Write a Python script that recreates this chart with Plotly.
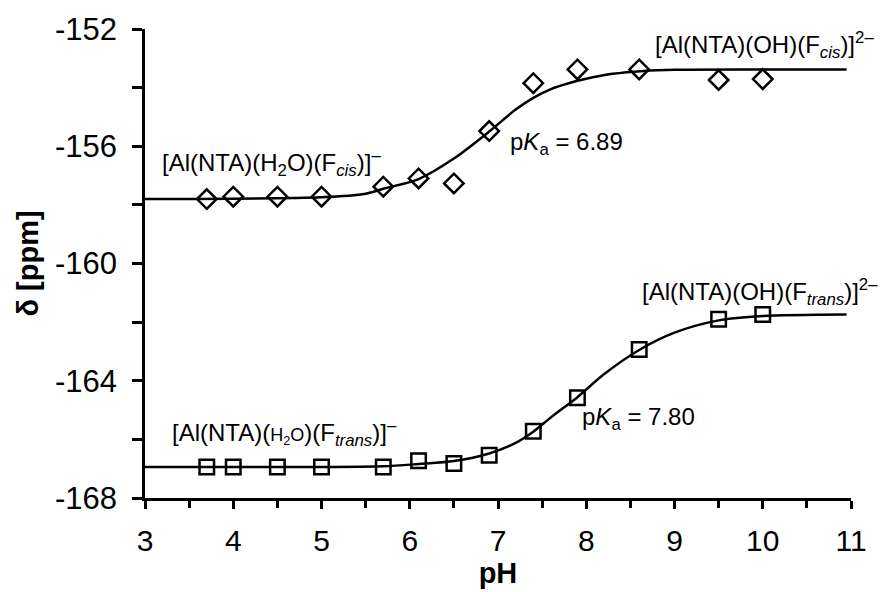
import plotly.graph_objects as go

# ---- data ----
ph_points = [3.7, 4.0, 4.5, 5.0, 5.7, 6.1, 6.5, 6.9, 7.4, 7.9, 8.6, 9.5, 10.0]
delta_cis = [-157.80, -157.72, -157.72, -157.72, -157.38, -157.10, -157.27,
             -155.48, -153.85, -153.38, -153.38, -153.74, -153.71]
delta_trans = [-166.94, -166.94, -166.94, -166.94, -166.94, -166.73, -166.82,
               -166.54, -165.72, -164.58, -162.93, -161.90, -161.74]

ph_fit_cis = [3.0, 5.0, 5.5, 5.7, 6.1, 6.5, 6.9, 7.2, 7.4, 7.6, 7.8, 8.0, 8.3, 8.65, 9.0, 10.0, 10.95]
delta_fit_cis = [-157.80, -157.74, -157.62, -157.45, -157.12, -156.42, -155.50, -154.75,
                 -154.35, -154.05, -153.85, -153.70, -153.53, -153.43, -153.39, -153.38, -153.38]

ph_fit_trans = [3.0, 5.0, 5.7, 6.1, 6.5, 6.9, 7.2, 7.4, 7.6, 7.9, 8.2, 8.6, 9.0, 9.5, 10.0, 10.95]
delta_fit_trans = [-166.94, -166.94, -166.92, -166.84, -166.74, -166.48, -166.12, -165.74,
                   -165.25, -164.56, -163.78, -162.95, -162.36, -161.94, -161.79, -161.74]

x_ticks = [3, 4, 5, 6, 7, 8, 9, 10, 11]
x_ticklabels = ["3", "4", "5", "6", "7", "8", "9", "10", "11"]
y_ticks = [-168, -164, -160, -156, -152]
y_ticklabels = ["-168", "-164", "-160", "-156", "-152"]

labels = [
    (3.17, -156.57, "[Al(NTA)(H<sub>2</sub>O)(F<sub><i>cis</i></sub>)]<sup>–</sup>"),
    (8.76, -152.55, "[Al(NTA)(OH)(F<sub><i>cis</i></sub>)]<sup>2–</sup>"),
    (3.28, -165.79, "[Al(NTA)(<span style='font-size:18px'>H<sub>2</sub>O</span>)(F<sub><i>trans</i></sub>)]<sup>–</sup>"),
    (8.61, -160.98, "[Al(NTA)(OH)(F<sub><i>trans</i></sub>)]<sup>2–</sup>"),
    (7.11, -155.89, "p<i>K</i><sub>a</sub> = 6.89"),
    (7.93, -165.28, "p<i>K</i><sub>a</sub> = 7.80"),
]

FONT = "Liberation Sans, Arial, sans-serif"

fig = go.Figure()
fig.add_trace(go.Scatter(x=ph_fit_cis, y=delta_fit_cis, mode="lines",
                         line=dict(color="black", width=2.5, shape="spline", smoothing=0.8),
                         showlegend=False, hoverinfo="skip"))
fig.add_trace(go.Scatter(x=ph_fit_trans, y=delta_fit_trans, mode="lines",
                         line=dict(color="black", width=2.5, shape="spline", smoothing=0.8),
                         showlegend=False, hoverinfo="skip"))
fig.add_trace(go.Scatter(x=ph_points, y=delta_cis, mode="markers",
                         marker=dict(symbol="diamond-open", size=15, color="black",
                                     line=dict(width=2.5, color="black")),
                         showlegend=False, cliponaxis=False))
fig.add_trace(go.Scatter(x=ph_points, y=delta_trans, mode="markers",
                         marker=dict(symbol="square-open", size=14.5, color="black",
                                     line=dict(width=2.5, color="black")),
                         showlegend=False, cliponaxis=False))

for x, y, t in labels:
    fig.add_annotation(x=x, y=y, text=t, showarrow=False, xanchor="left", yanchor="middle",
                       font=dict(family=FONT, size=24, color="black"))

fig.update_layout(
    width=890, height=592,
    margin=dict(l=145, r=39, t=29, b=94, autoexpand=False),
    paper_bgcolor="white", plot_bgcolor="white",
    font=dict(family=FONT, color="black"),
    showlegend=False,
)
fig.update_xaxes(
    range=[3, 11], tickvals=x_ticks, ticktext=x_ticklabels,
    showgrid=False, zeroline=False, showline=True, linecolor="black", linewidth=2.5,
    ticks="outside", ticklen=8, tickwidth=2.5, tickcolor="black",
    tickfont=dict(family=FONT, size=30, color="black"), ticklabelstandoff=6,
    minor=dict(dtick=0.5, tick0=3, ticks="outside", ticklen=7, tickwidth=2.5, tickcolor="black", showgrid=False),
    title=dict(text="<b>pH</b>", font=dict(family=FONT, size=29, color="black"), standoff=2),
    automargin=False,
)
fig.update_yaxes(
    range=[-168, -152], tickvals=y_ticks, ticktext=y_ticklabels,
    showgrid=False, zeroline=False, showline=True, linecolor="black", linewidth=2.5,
    ticks="outside", ticklen=10, tickwidth=2.5, tickcolor="black",
    tickfont=dict(family=FONT, size=31, color="black"), ticklabelstandoff=9,
    minor=dict(dtick=2, tick0=-168, ticks="outside", ticklen=10, tickwidth=2.5, tickcolor="black", showgrid=False),
    title=dict(text="<b>δ [ppm]</b>", font=dict(family=FONT, size=29, color="black"), standoff=8),
    automargin=False,
)

fig.write_html("out.html")
